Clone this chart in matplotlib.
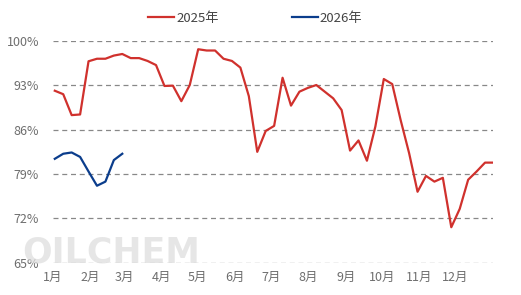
import numpy as np
import matplotlib.pyplot as plt

plt.rcParams['font.family'] = ['Noto Sans CJK SC', 'DejaVu Sans']

# weekly operating rate (%)
rate_2025 = [92.15, 91.6, 88.3, 88.4, 96.8, 97.2, 97.2, 97.7, 97.95, 97.3, 97.3,
             96.85, 96.2, 92.9, 92.95, 90.5, 93.05, 98.7, 98.5, 98.5, 97.2, 96.85,
             95.8, 91.3, 82.5, 85.8, 86.6, 94.2, 89.8, 92.0, 92.6, 93.05, 92.0,
             90.95, 89.1, 82.7, 84.3, 81.1, 86.5, 94.0, 93.2, 87.5, 82.3, 76.2,
             78.7, 77.8, 78.4, 70.6, 73.5, 78.1, 79.4, 80.8, 80.8]
rate_2026 = [81.4, 82.2, 82.4, 81.7, 79.4, 77.15, 77.8, 81.2, 82.2]

months = ['1月', '2月', '3月', '4月', '5月', '6月', '7月', '8月', '9月', '10月', '11月', '12月']
month_start = [0, 31, 59, 90, 120, 151, 181, 212, 243, 273, 304, 334]
yticks = [65, 72, 79, 86, 93, 100]

fig = plt.figure(figsize=(5.21, 2.95), dpi=100)
ax = fig.add_axes([0.1017, 0.1095, 0.8443, 0.7515])

day25 = 1.5 + 7 * np.arange(len(rate_2025))
day26 = 1.5 + 7 * np.arange(len(rate_2026))

ax.plot(day25, rate_2025, color='#d0312d', lw=1.6, label='2025年', zorder=3)
ax.plot(day26, rate_2026, color='#0b3d8c', lw=1.6, label='2026年', zorder=3)

ax.set_xlim(0, 365)
ax.set_ylim(65, 100)
ax.set_yticks(yticks)
ax.set_yticklabels([f'{v}%' for v in yticks])
ax.set_xticks(month_start)
ax.set_xticklabels(months)
ax.tick_params(length=0, labelsize=9, colors='#6e6e6e', pad=6)
ax.tick_params(axis='y', pad=10)
ax.grid(axis='y', color='#888888', linestyle=(0, (4, 3)), lw=0.9)
for s in ax.spines.values():
    s.set_visible(False)

# watermark
fig.text(0.042, 0.11, 'OILCHEM', fontsize=25, fontweight='bold', color='#dcdcdc',
         alpha=0.7, family='DejaVu Sans', zorder=0)

leg = fig.legend(loc='upper center', bbox_to_anchor=(0.49, 1.0), ncol=2, frameon=False,
                 fontsize=9.5, handlelength=2.0, handletextpad=0.15, columnspacing=5.5)
for t in leg.get_texts():
    t.set_color('#444444')

fig.savefig('out.png', dpi=100)
